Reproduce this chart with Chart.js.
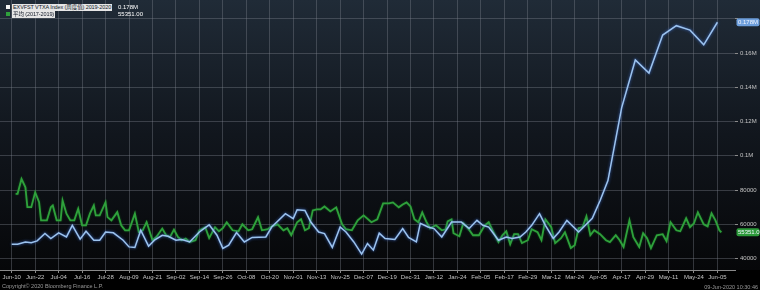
<!DOCTYPE html>
<html><head><meta charset="utf-8">
<script src="https://cdn.jsdelivr.net/npm/chart.js@4"></script>
<style>
html,body{margin:0;padding:0;background:#000;width:760px;height:290px;overflow:hidden;}
#wrap{position:relative;width:760px;height:290px;}
canvas{position:absolute;left:0;top:0;}
.t{position:absolute;font-family:"Liberation Sans","Noto Sans CJK SC",Arial,sans-serif;font-size:6px;line-height:7px;white-space:nowrap;}
.box{background:#e6e6e6;color:#111827;padding:0 1px;height:7px;overflow:hidden;font-size:5.5px;letter-spacing:-0.1px;}
.sq{position:absolute;width:4px;height:4px;}
</style></head>
<body><div id="wrap">
<canvas id="c" width="760" height="290"></canvas>
<div class="sq" style="left:6px;top:5px;background:#f2f2f2;"></div>
<div class="t box" id="n0" style="left:12px;top:3.5px;max-width:101px;"></div>
<div class="t" id="v0" style="left:118px;top:3.5px;color:#fff;"></div>
<div class="sq" style="left:6px;top:12px;background:#2fa13c;"></div>
<div class="t box" id="n1" style="left:12px;top:10.5px;"></div>
<div class="t" id="v1" style="left:118px;top:10.5px;color:#fff;"></div>
<div class="t" style="left:2px;top:283px;color:#9a9a9a;font-size:5.5px;">Copyright© 2020 Bloomberg Finance L.P.</div>
<div class="t" style="right:2px;top:283.5px;color:#9a9a9a;font-size:5.5px;">09-Jun-2020 10:30:46</div>
</div>
<script>
const seriesNames = ['EXVFST VTXA Index (周度值) 2019-2020', '平均 (2017-2019)'];
const tickLabels = ['Jun-10','Jun-22','Jul-04','Jul-16','Jul-28','Aug-09','Aug-21','Sep-02','Sep-14','Sep-26','Oct-08','Oct-20','Nov-01','Nov-13','Nov-25','Dec-07','Dec-19','Dec-31','Jan-12','Jan-24','Feb-05','Feb-17','Feb-29','Mar-12','Mar-24','Apr-05','Apr-17','Apr-29','May-11','May-24','Jun-05'];
const yTickValues = [40000,60000,80000,100000,120000,140000,160000,180000];
const yTickLabels = ['40000','60000','80000','0.1M','0.12M','0.14M','0.16M',''];

// days counted from 2019-06-10
const blueDays = [0,3,7,10,13,17,20,24,28,31,35,38,42,45,48,52,57,60,63,66,70,73,77,80,84,87,91,96,101,105,108,111,115,119,123,130,133,140,144,146,150,153,157,160,164,168,171,175,179,182,185,188,191,196,200,203,207,209,213,216,220,225,230,234,238,241,244,249,253,256,260,263,266,270,273,277,280,284,290,297,301,305,312,319,326,333,340,347,354,361];
const blueValues = [48400,48400,49700,49200,50300,54600,51700,55000,52600,59400,51300,55900,50700,50700,55500,55000,50700,46800,46500,56500,47200,50700,53600,53000,50700,51100,49700,55500,59700,53600,45900,47800,55200,49700,52300,52600,58400,66200,63300,68500,68100,61300,55500,54600,46500,58400,55500,49700,42600,48800,44900,54800,51700,51100,57500,52300,49700,60600,58400,57500,52600,61300,61300,57500,62300,59400,58400,50700,52600,51700,52600,55500,59400,66200,59400,51700,55500,62300,55500,63500,73900,85500,128000,156000,148300,170500,176000,173400,164800,178000];

const avgDays = [2,3,5,7,8,10,12,14,15,18,20,21,23,25,26,28,30,32,34,36,38,40,42,43,45,48,49,51,54,56,58,60,63,65,67,69,72,74,77,79,81,83,85,87,89,91,94,96,99,101,104,106,108,110,113,116,118,121,123,126,128,131,133,136,139,141,143,146,148,150,152,154,156,158,160,163,166,169,171,174,177,180,184,187,190,193,195,198,200,202,204,206,208,210,212,214,217,220,222,223,225,226,229,231,233,236,239,242,244,246,249,251,253,255,257,259,261,264,266,269,271,273,276,278,281,283,286,288,290,292,294,296,298,301,304,306,309,311,313,316,318,321,323,325,327,330,333,335,337,340,342,345,347,349,351,354,356,358,360,362,363];
const avgValues = [77800,77800,86500,81600,70000,70000,78700,72900,62300,62300,70000,71000,62300,62300,73900,66200,62300,62300,69100,59400,59400,66200,71000,65200,65200,72900,64200,62300,67100,59400,56500,56500,66200,55500,56500,61300,50700,52600,57500,53600,52600,56900,52600,50700,51700,49700,50700,56500,58300,51900,58300,55900,57700,61200,56500,55900,60000,56500,57100,64100,56500,57100,58800,60000,56500,57700,53600,61200,62900,56500,57700,68100,68700,68700,70400,67500,69900,60000,57100,56500,62300,65200,61200,62900,72200,72200,72800,69900,71600,72800,70400,62900,61200,67000,61700,57700,59400,56500,57100,61700,62900,54800,53000,60600,58300,53600,53600,59400,61200,56500,49600,53600,55900,48400,54200,54200,49000,50700,57100,55400,50700,62900,58300,49000,51900,55400,46100,47800,57700,58300,64600,53600,56500,54200,50700,49600,53600,50700,46700,62300,52500,46700,54800,51900,46100,53600,54200,50100,61200,56500,55900,63500,58300,60600,67000,60000,58800,66400,62300,56500,55351];

const MONTHS = {Jan:0,Feb:1,Mar:2,Apr:3,May:4,Jun:5,Jul:6,Aug:7,Sep:8,Oct:9,Nov:10,Dec:11};
const base = Date.UTC(2019,5,10);
let yr = 2019, prevM = 5;
const tickDays = tickLabels.map(l => {
  const [mon, d] = l.split('-'); const m = MONTHS[mon];
  if (m < prevM) yr++; prevM = m;
  return Math.round((Date.UTC(yr, m, +d) - base) / 86400000);
});

const fmt = v => v >= 100000 ? (v/1e6).toFixed(3) + 'M' : v.toFixed(2);
const colors = ['#9cc3ee', '#2fa13c'];
const tagColors = ['#6e9fdc', '#2c9a3a'];

document.getElementById('n0').textContent = seriesNames[0];
document.getElementById('n1').textContent = seriesNames[1];
document.getElementById('v0').textContent = fmt(blueValues[blueValues.length-1]);
document.getElementById('v1').textContent = fmt(avgValues[avgValues.length-1]);

const FONT = '"Liberation Sans", Arial, sans-serif';
const gridCol = 'rgba(125,132,142,0.38)';

const bgPlugin = {
  id: 'bg',
  beforeDraw(chart) {
    const {ctx, chartArea} = chart;
    ctx.save();
    ctx.fillStyle = '#000';
    ctx.fillRect(0, 0, chart.width, chart.height);
    const g = ctx.createLinearGradient(0, 0, 0, chartArea.bottom);
    g.addColorStop(0, '#202b37');
    g.addColorStop(0.5, '#11161d');
    g.addColorStop(1, '#060709');
    ctx.fillStyle = g;
    ctx.fillRect(0, 0, chart.width, chartArea.bottom);
    ctx.restore();
  }
};
const glowPlugin = {
  id: 'glow',
  beforeDatasetDraw(chart, args) {
    chart.ctx.save();
    if (args.index === 0) { chart.ctx.shadowColor = 'rgba(60,110,210,0.9)'; chart.ctx.shadowBlur = 3; }
    else { chart.ctx.shadowColor = 'rgba(20,120,30,0.7)'; chart.ctx.shadowBlur = 2; }
  },
  afterDatasetDraw(chart) { chart.ctx.restore(); }
};
const tagPlugin = {
  id: 'tags',
  afterDraw(chart) {
    const {ctx, chartArea} = chart;
    const ys = chart.scales.y;
    chart.data.datasets.forEach((ds, i) => {
      const last = ds.data[ds.data.length-1].y;
      const py = ys.getPixelForValue(last);
      const txt = fmt(last);
      ctx.save();
      ctx.font = '6px ' + FONT;
      const w = 760 - chartArea.right - 2;
      ctx.fillStyle = tagColors[i];
      ctx.beginPath();
      ctx.roundRect(chartArea.right + 1.5, py - 4, w, 8, 2);
      ctx.fill();
      ctx.fillStyle = '#f2f6ff';
      ctx.textBaseline = 'middle';
      ctx.fillText(txt, chartArea.right + 3, py + 0.5);
      ctx.restore();
    });
  }
};

new Chart(document.getElementById('c'), {
  type: 'line',
  data: {
    datasets: [
      { label: seriesNames[0], data: blueDays.map((d, i) => ({x: d, y: blueValues[i]})), borderColor: colors[0], borderWidth: 1.5, pointRadius: 0, tension: 0 },
      { label: seriesNames[1], data: avgDays.map((d, i) => ({x: d, y: avgValues[i]})), borderColor: colors[1], borderWidth: 1.8, pointRadius: 0, tension: 0 }
    ]
  },
  options: {
    responsive: false, animation: false,
    layout: { padding: 0 },
    plugins: { legend: { display: false }, tooltip: { enabled: false } },
    scales: {
      x: {
        type: 'linear', min: -6, max: 370,
        afterBuildTicks: s => { s.ticks = tickDays.map(v => ({value: v})); },
        afterFit: s => { s.height = 20; s.paddingLeft = 0; s.paddingRight = 0; },
        ticks: { autoSkip: false, maxRotation: 0, minRotation: 0, padding: 1, color: '#c4c4c4', font: { size: 6, family: FONT },
          callback: (v, i) => tickLabels[i] },
        grid: { color: gridCol, tickLength: 3, tickColor: '#8a8a8a', drawOnChartArea: true },
        border: { display: true, color: '#8a8a8a' }
      },
      y: {
        position: 'right', min: 33300, max: 191000,
        afterBuildTicks: s => { s.ticks = yTickValues.map(v => ({value: v})); },
        afterFit: s => { s.width = 25; s.paddingTop = 0; s.paddingBottom = 0; },
        ticks: { padding: 2, color: '#c4c4c4', font: { size: 6, family: FONT },
          callback: (v, i) => yTickLabels[i] ?? '' },
        grid: { color: gridCol, tickLength: 3, tickColor: '#8a8a8a' },
        border: { display: false }
      }
    }
  },
  plugins: [bgPlugin, glowPlugin, tagPlugin]
});
</script>
</body></html>
